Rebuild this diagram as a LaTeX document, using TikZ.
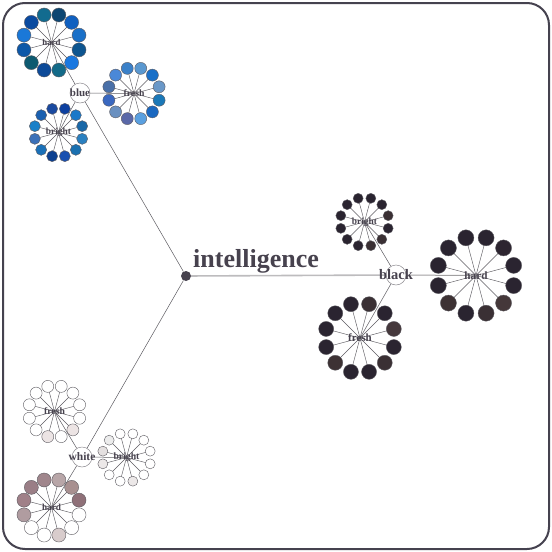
\documentclass[tikz,border=0pt]{standalone}
\usepackage{fontspec}
\setmainfont{Liberation Serif}
\usepackage{tikz}
\usetikzlibrary{calc}
\usetikzlibrary{backgrounds}

\definecolor{ink}{HTML}{47424E}
\definecolor{frame}{HTML}{45424F}
\definecolor{wire}{HTML}{5C5A60}
\definecolor{trunk}{HTML}{BDBCBE}

\tikzset{
  petal/.style={circle, draw=wire, line width=0.4pt, inner sep=0pt},
  spoke/.style={draw=wire, line width=0.45pt},
  tag/.style={text=ink, inner sep=0pt},
  branch/.style={circle, draw=wire!70, fill=white, line width=0.5pt,
    minimum size=20pt, inner sep=0pt},
  link/.style={draw=wire, line width=0.5pt},
  trunkline/.style={draw=trunk, line width=1.6pt},
}

% one cluster: name, centre, ring radius, dot radius, font size, label, fills
\newcommand{\bloom}[7]{%
  \node[tag, font=\fontsize{#5}{#5}\selectfont\bfseries] (#1) at (#2) {#6};
  \foreach \c [count=\k] in {#7} {
    \definecolor{petalfill}{HTML}{\c}
    \node[petal, minimum size=2*#4pt, fill=petalfill] (#1-\k)
      at ($(#1)+(30*\k-165:#3)$) {};
    \begin{scope}[on background layer]
      \draw[spoke] (#1.center) -- (#1-\k.center);
    \end{scope}
  }
}

\begin{document}
\begin{tikzpicture}[x=1pt, y=-1pt]
    \useasboundingbox (0,0) rectangle (552,552);

    % Draw the frame
    \draw[frame, line width=2pt, rounded corners=22pt] (3,3) rectangle (549,549);

    % The root
    \node[circle, fill=ink, minimum size=10pt, inner sep=0pt] (hub) at (186,276) {};
    \node[tag, font=\fontsize{26}{26}\selectfont\bfseries, anchor=base] (title)
      at (256,267.5) {intelligence};

    % The three colours
    \node[branch, label={[tag, font=\fontsize{11}{11}\selectfont\bfseries]center:blue}]
      (blue) at (80,93) {};
    \node[branch, label={[tag, font=\fontsize{14.5}{14.5}\selectfont\bfseries]center:black}]
      (black) at (396,275) {};
    \node[branch, label={[tag, font=\fontsize{11.5}{11.5}\selectfont\bfseries]center:white}]
      (white) at (82,457) {};

    % Blue clusters
    \bloom{bh}{51.5,42.5}{28.5}{7}{8.8}{hard}
      {0A4AA0,126B8F,0D4672,1060C0,1A70C8,0D5590,1A78E0,136A88,0D4A98,0D5A70,0D58A8,1A78D8}
    \bloom{bf}{134,93.5}{26}{6}{9.7}{fresh}
      {4A88D8,3A80C8,5A98D0,1A70C8,6A98C8,1A78B8,1A68C0,5AA0E0,5A68A8,6A90C0,3A68C0,4A70A8}
    \bloom{bb}{58.5,132.5}{24.5}{5.5}{9.4}{bright}
      {1A60B0,1A4AA0,0D40A0,1A78C8,1A68A8,2A80C0,1A70B0,1A50B0,0D4090,1A70B8,3A70B8,1A80C8}

    % Black clusters
    \bloom{kh}{476,275.5}{39}{8}{11.2}{hard}
      {2A2430,2A2430,2A2430,2D2530,2A2430,2A2430,45383A,3A3034,2A2430,3D3234,2A2430,2A2430}
    \bloom{kb}{364.5,222}{24.5}{5}{9.4}{bright}
      {2A2430,2A2430,2A2430,2A2430,3A3034,2A2430,3A3034,3A3034,2A2430,2A2430,2A2430,2A2430}
    \bloom{kf}{360,338}{35}{7.5}{11}{fresh}
      {2A2430,2A2430,3A3034,2A2430,45383C,2A2430,3A3034,2A2430,2A2430,3D3234,2A2430,2A2430}

    % White clusters
    \bloom{wf}{54.5,411.5}{26}{6}{9.7}{fresh}
      {FFFFFF,FFFFFF,FFFFFF,FFFFFF,FFFFFF,FFFFFF,ECE4E4,FFFFFF,ECE4E4,FFFFFF,FFFFFF,FFFFFF}
    \bloom{wb}{126.5,457.5}{24.5}{5}{9.7}{bright}
      {ECECEC,FFFFFF,FFFFFF,FFFFFF,FFFFFF,FFFFFF,FFFFFF,ECE8E8,FFFFFF,FFFFFF,ECE8E8,E4E0E0}
    \bloom{wh}{51.5,507.5}{28.5}{7}{9.2}{hard}
      {9A7E86,A0868C,B8A6A8,A89090,8F7078,FFFFFF,FFFFFF,D8CCCC,FFFFFF,FFFFFF,B09CA0,A08088}

    % Connect everything
    \begin{scope}[on background layer]
      \draw[link] (hub) -- (blue);
      \draw[link] (hub) -- (white);
      \draw[trunkline] (hub) -- (black);
      \draw[link] (blue) -- (bh.center);
      \draw[link] (blue) -- (bf.center);
      \draw[link] (blue) -- (bb.center);
      \draw[trunkline, line width=1pt, draw=trunk!85!black] (black) -- (kh.center);
      \draw[link] (black) -- (kb.center);
      \draw[link] (black) -- (kf.center);
      \draw[link] (white) -- (wf.center);
      \draw[link] (white) -- (wb.center);
      \draw[link] (white) -- (wh.center);
    \end{scope}
\end{tikzpicture}
\end{document}
